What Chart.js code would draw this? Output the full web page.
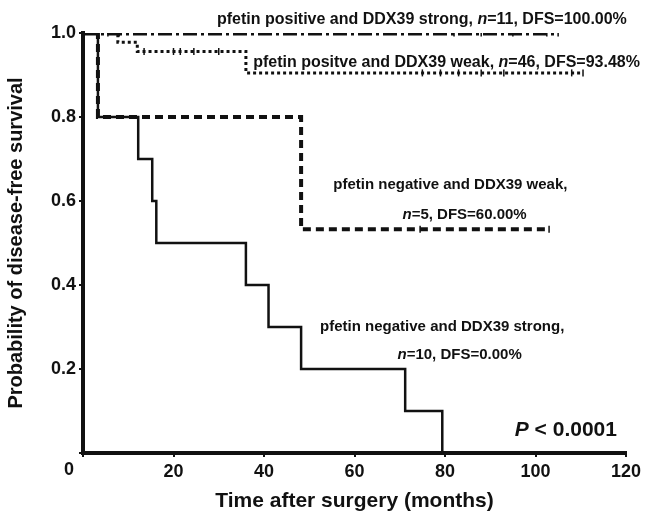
<!DOCTYPE html>
<html>
<head>
<meta charset="utf-8">
<script src="https://cdn.jsdelivr.net/npm/chart.js@4/dist/chart.umd.min.js"></script>
<style>
html, body { margin: 0; padding: 0; background: #fff; }
</style>
</head>
<body>
<canvas id="km" width="646" height="518"></canvas>
<script>
// Kaplan-Meier steps (months, survival)
var negStrongT = [0, 3.3, 12.2, 15.3, 16.2, 36, 41, 48.2, 71.2, 79.4];
var negStrongS = [1.0, 0.8, 0.7, 0.6, 0.5, 0.4, 0.3, 0.2, 0.1, 0.0];
var negWeakT = [0, 3.3, 48.2, 103];
var negWeakS = [1.0, 0.8, 0.533, 0.533];
var posWeakT = [0, 7.7, 12, 36, 110.5];
var posWeakS = [1.0, 0.978, 0.956, 0.905, 0.905];
var posStrongT = [0, 105];
var posStrongS = [1.0, 1.0];

// censored follow-up times (small tick marks on the curves)
var censPosStrongT = [5.5, 8, 82, 88, 95, 102.5, 105];
var censPosWeakT = [13.5, 20, 21.5, 24.5, 30, 75, 79, 83, 88, 93, 108, 110.5];
var censNegWeakT = [74.5, 103];

var xTicks = [0, 20, 40, 60, 80, 100, 120];
var yTicks = [0, 0.2, 0.4, 0.6, 0.8, 1.0];

// text labels: [x months, y value, font size, runs]
var notes = [
	[29.6, 1.031, 16, [["pfetin positive and DDX39 strong, "], ["n", 1], ["=11, DFS=100.00%"]]],
	[37.6, 0.929, 16, [["pfetin positve and DDX39 weak, "], ["n", 1], ["=46, DFS=93.48%"]]],
	[55.3, 0.638, 15, [["pfetin negative and DDX39 weak,"]]],
	[70.6, 0.567, 15, [["n", 1], ["=5, DFS=60.00%"]]],
	[52.4, 0.300, 15, [["pfetin negative and DDX39 strong,"]]],
	[69.5, 0.233, 15, [["n", 1], ["=10, DFS=0.00%"]]]
];

var FONT = "'Liberation Sans', Arial, sans-serif";

function pts(t, s) {
	var out = [];
	for (var i = 0; i < t.length; i++) out.push({x: t[i], y: s[i]});
	return out;
}

// survival level at time t for a step curve
function levelAt(T, S, t) {
	var v = S[0];
	for (var i = 0; i < T.length; i++) if (T[i] <= t) v = S[i];
	return v;
}

function curve(label, t, s, width, dash) {
	return {
		label: label,
		data: pts(t, s),
		stepped: 'before',
		borderColor: '#111',
		borderWidth: width,
		borderDash: dash,
		pointRadius: 0,
		fill: false
	};
}

function censors(label, times, T, S) {
	return {
		label: label,
		data: times.map(function(t) { return {x: t, y: levelAt(T, S, t)}; }),
		showLine: false,
		pointStyle: 'line',
		rotation: 90,
		pointRadius: 3.5,
		pointBorderWidth: 1.5,
		pointBorderColor: '#111'
	};
}

var textPlugin = {
	id: 'texts',
	afterDraw: function(chart) {
		var ctx = chart.ctx, xs = chart.scales.x, ys = chart.scales.y;
		ctx.save();
		ctx.fillStyle = '#111';
		ctx.textBaseline = 'middle';
		ctx.textAlign = 'left';
		notes.forEach(function(n) {
			var px = xs.getPixelForValue(n[0]);
			var py = ys.getPixelForValue(n[1]);
			n[3].forEach(function(r) {
				ctx.font = (r[1] ? 'italic ' : '') + 'bold ' + n[2] + 'px ' + FONT;
				ctx.fillText(r[0], px, py);
				px += ctx.measureText(r[0]).width;
			});
		});
		// P value, right aligned near the end of the axis
		var rx = xs.getPixelForValue(118);
		var ry = ys.getPixelForValue(0.055);
		ctx.font = 'bold 21px ' + FONT;
		var rest = ' < 0.0001';
		var w1 = ctx.measureText(rest).width;
		ctx.fillText(rest, rx - w1, ry);
		ctx.font = 'italic bold 21px ' + FONT;
		var w2 = ctx.measureText('P').width;
		ctx.fillText('P', rx - w1 - w2, ry);
		// origin label sits left of the corner
		ctx.font = 'bold 18px ' + FONT;
		ctx.textAlign = 'center';
		ctx.fillText('0', xs.getPixelForValue(0) - 14, ys.getPixelForValue(0) + 17);
		ctx.restore();
	}
};

new Chart(document.getElementById('km').getContext('2d'), {
	type: 'line',
	data: {
		datasets: [
			curve('negative strong', negStrongT, negStrongS, 2.5, []),
			curve('negative weak', negWeakT, negWeakS, 4, [8, 5]),
			curve('positive weak', posWeakT, posWeakS, 3, [3, 3]),
			curve('positive strong', posStrongT, posStrongS, 5, [14, 4, 3, 4]),
			censors('c1', censPosStrongT, posStrongT, posStrongS),
			censors('c2', censPosWeakT, posWeakT, posWeakS),
			censors('c3', censNegWeakT, negWeakT, negWeakS)
		]
	},
	options: {
		responsive: false,
		animation: false,
		layout: { padding: { top: 33, right: 20, left: 0, bottom: 0 } },
		plugins: { legend: { display: false }, tooltip: { enabled: false } },
		scales: {
			x: {
				type: 'linear',
				min: 0, max: 120,
				afterBuildTicks: function(s) { s.ticks = xTicks.map(function(v) { return {value: v}; }); },
				afterFit: function(s) { s.height = 65; },
				border: { display: true, width: 4, color: '#111' },
				grid: { display: true, drawOnChartArea: false, drawTicks: true, tickLength: 4, lineWidth: 2, color: '#111' },
				ticks: {
					color: '#111', padding: 4, maxRotation: 0,
					font: { family: FONT, size: 18, weight: 'bold' },
					callback: function(v) { return v === 0 ? '' : v; }
				},
				title: {
					display: true, text: 'Time after surgery (months)', color: '#111',
					font: { family: FONT, size: 21, weight: 'bold' }, padding: { top: 6 }
				}
			},
			y: {
				min: 0, max: 1,
				afterBuildTicks: function(s) { s.ticks = yTicks.map(function(v) { return {value: v}; }); },
				afterFit: function(s) { s.width = 83; },
				border: { display: true, width: 4, color: '#111' },
				grid: { display: true, drawOnChartArea: false, drawTicks: true, tickLength: 4, lineWidth: 2, color: '#111' },
				ticks: {
					color: '#111', padding: 3,
					font: { family: FONT, size: 18, weight: 'bold' },
					callback: function(v) { return v === 0 ? '' : v.toFixed(1); }
				},
				title: {
					display: true, text: 'Probability of disease-free survival', color: '#111',
					font: { family: FONT, size: 20, weight: 'bold' }, padding: { bottom: 4 }
				}
			}
		}
	},
	plugins: [textPlugin]
});
</script>
</body>
</html>
